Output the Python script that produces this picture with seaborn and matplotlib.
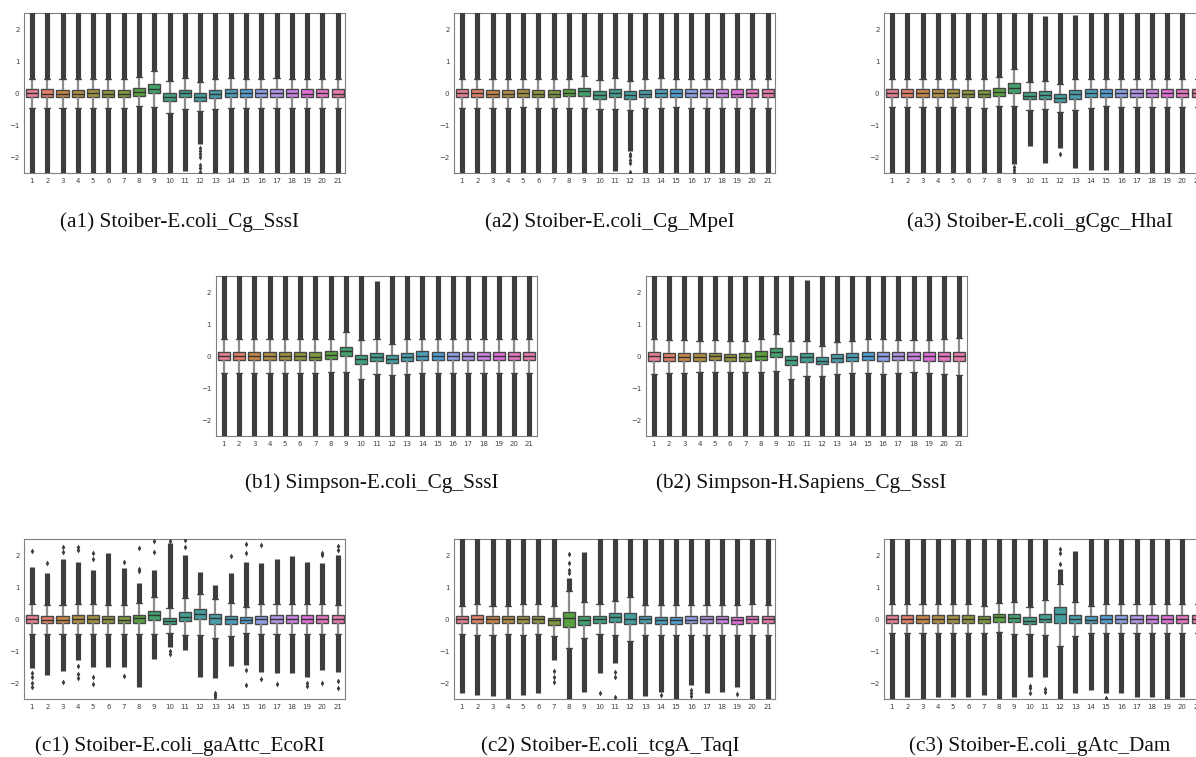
import numpy as np
import pandas as pd
import seaborn as sns
import matplotlib.pyplot as plt

# positions 1..21 along the read
cats = [str(i) for i in range(1, 22)]
CLIP = 2.6  # outliers run past the axis limit

# ---- (a1) Stoiber-E.coli_Cg_SssI
a1_med = [0.0, -0.01, -0.02, -0.01, 0.0, -0.01, -0.01, 0.05, 0.13, -0.12, 0.0, -0.12, -0.03, 0.0, 0.0, 0.0, 0.0, 0.0, -0.01, 0.0, -0.01]
a1_q1 = [-0.11, -0.11, -0.12, -0.12, -0.11, -0.12, -0.12, -0.10, 0.00, -0.24, -0.13, -0.23, -0.15, -0.11, -0.11, -0.11, -0.11, -0.11, -0.12, -0.11, -0.11]
a1_q3 = [0.12, 0.12, 0.11, 0.11, 0.12, 0.11, 0.11, 0.16, 0.28, 0.02, 0.11, 0.00, 0.10, 0.12, 0.12, 0.12, 0.12, 0.12, 0.12, 0.12, 0.12]
a1_wlo = [-0.46, -0.45, -0.46, -0.47, -0.45, -0.46, -0.46, -0.41, -0.43, -0.62, -0.48, -0.54, -0.49, -0.46, -0.45, -0.45, -0.46, -0.46, -0.46, -0.46, -0.46]
a1_whi = [0.46, 0.46, 0.46, 0.46, 0.46, 0.46, 0.46, 0.50, 0.70, 0.38, 0.47, 0.34, 0.45, 0.47, 0.46, 0.46, 0.48, 0.46, 0.46, 0.46, 0.46]
a1_olo = [-CLIP, -CLIP, -CLIP, -CLIP, -CLIP, -CLIP, -CLIP, -CLIP, -CLIP, -CLIP, -2.42, -1.60, -CLIP, -CLIP, -CLIP, -CLIP, -CLIP, -CLIP, -CLIP, -CLIP, -CLIP]
a1_ohi = [CLIP] * 21
a1_sparse = {12: [-1.7, -1.8, -1.9, -2.0, -2.25, -2.35, -2.45]}

# ---- (a2) Stoiber-E.coli_Cg_MpeI
a2_med = [0.0, 0.0, -0.01, -0.01, 0.0, -0.01, -0.01, 0.02, 0.07, -0.05, 0.0, -0.05, -0.01, 0.0, 0.0, 0.0, 0.0, 0.0, -0.01, 0.0, 0.0]
a2_q1 = [-0.11, -0.11, -0.11, -0.11, -0.11, -0.11, -0.11, -0.10, -0.08, -0.18, -0.13, -0.18, -0.12, -0.11, -0.11, -0.11, -0.11, -0.11, -0.11, -0.11, -0.11]
a2_q3 = [0.12, 0.12, 0.11, 0.11, 0.12, 0.11, 0.11, 0.13, 0.18, 0.08, 0.13, 0.07, 0.11, 0.13, 0.12, 0.12, 0.12, 0.12, 0.12, 0.12, 0.12]
a2_wlo = [-0.45, -0.45, -0.45, -0.45, -0.42, -0.45, -0.45, -0.45, -0.45, -0.50, -0.48, -0.52, -0.47, -0.45, -0.42, -0.45, -0.45, -0.45, -0.45, -0.45, -0.45]
a2_whi = [0.46, 0.46, 0.46, 0.46, 0.46, 0.45, 0.46, 0.46, 0.54, 0.41, 0.49, 0.38, 0.46, 0.47, 0.45, 0.46, 0.46, 0.46, 0.46, 0.46, 0.46]
a2_olo = [-CLIP, -CLIP, -CLIP, -CLIP, -CLIP, -CLIP, -CLIP, -CLIP, -CLIP, -CLIP, -2.42, -1.80, -CLIP, -CLIP, -CLIP, -CLIP, -CLIP, -CLIP, -CLIP, -CLIP, -CLIP]
a2_ohi = [CLIP] * 21
a2_sparse = {12: [-1.9, -1.97, -2.07, -2.17, -2.46]}

# ---- (a3) Stoiber-E.coli_gCgc_HhaI
a3_med = [0.0, 0.0, 0.0, 0.0, 0.0, -0.01, -0.01, 0.05, 0.16, -0.08, -0.04, -0.16, -0.02, 0.0, 0.0, 0.0, 0.0, 0.0, 0.0, 0.0, 0.0]
a3_q1 = [-0.11, -0.11, -0.11, -0.11, -0.11, -0.12, -0.12, -0.10, 0.02, -0.19, -0.18, -0.26, -0.17, -0.12, -0.11, -0.11, -0.11, -0.11, -0.11, -0.11, -0.11]
a3_q3 = [0.12, 0.12, 0.12, 0.12, 0.12, 0.11, 0.11, 0.16, 0.31, 0.03, 0.07, -0.03, 0.10, 0.12, 0.12, 0.12, 0.13, 0.13, 0.12, 0.13, 0.13]
a3_wlo = [-0.43, -0.43, -0.43, -0.43, -0.42, -0.44, -0.45, -0.41, -0.39, -0.52, -0.50, -0.57, -0.52, -0.45, -0.41, -0.43, -0.43, -0.43, -0.43, -0.43, -0.43]
a3_whi = [0.45, 0.45, 0.45, 0.45, 0.45, 0.45, 0.46, 0.50, 0.75, 0.36, 0.39, 0.29, 0.46, 0.46, 0.45, 0.45, 0.46, 0.46, 0.45, 0.46, 0.46]
a3_olo = [-CLIP, -CLIP, -CLIP, -CLIP, -CLIP, -CLIP, -CLIP, -CLIP, -2.20, -1.66, -2.17, -1.70, -2.33, -2.40, -2.40, -CLIP, -CLIP, -CLIP, -CLIP, -CLIP, -CLIP]
a3_ohi = [CLIP, CLIP, CLIP, CLIP, CLIP, CLIP, CLIP, CLIP, CLIP, CLIP, 2.42, CLIP, 2.45, CLIP, CLIP, CLIP, CLIP, CLIP, CLIP, CLIP, CLIP]
a3_sparse = {9: [-2.3, -2.4, -2.48], 12: [-1.9]}

# ---- (b1) Simpson-E.coli_Cg_SssI
b1_med = [0.0, 0.0, 0.0, 0.0, 0.0, 0.0, -0.01, 0.04, 0.16, -0.10, -0.02, -0.09, -0.01, 0.0, 0.0, 0.0, 0.0, 0.0, 0.0, 0.0, 0.0]
b1_q1 = [-0.13, -0.13, -0.13, -0.13, -0.13, -0.13, -0.13, -0.09, 0.00, -0.25, -0.16, -0.22, -0.15, -0.13, -0.13, -0.13, -0.13, -0.13, -0.13, -0.13, -0.13]
b1_q3 = [0.13, 0.13, 0.13, 0.13, 0.13, 0.13, 0.13, 0.16, 0.30, 0.04, 0.11, 0.03, 0.09, 0.15, 0.13, 0.13, 0.14, 0.14, 0.13, 0.13, 0.13]
b1_wlo = [-0.53, -0.51, -0.53, -0.53, -0.51, -0.53, -0.53, -0.49, -0.49, -0.71, -0.56, -0.60, -0.56, -0.53, -0.51, -0.51, -0.53, -0.53, -0.53, -0.53, -0.53]
b1_whi = [0.53, 0.53, 0.53, 0.53, 0.53, 0.53, 0.53, 0.54, 0.77, 0.51, 0.53, 0.39, 0.53, 0.55, 0.55, 0.53, 0.53, 0.53, 0.53, 0.53, 0.53]
b1_olo = [-CLIP] * 21
b1_ohi = [CLIP, CLIP, CLIP, CLIP, CLIP, CLIP, CLIP, CLIP, CLIP, CLIP, 2.36, CLIP, CLIP, CLIP, CLIP, CLIP, CLIP, CLIP, CLIP, CLIP, CLIP]
b1_sparse = {}

# ---- (b2) Simpson-H.Sapiens_Cg_SssI
b2_med = [0.0, -0.03, -0.03, -0.02, 0.01, -0.03, -0.02, 0.02, 0.12, -0.11, -0.03, -0.14, -0.04, -0.01, 0.0, 0.0, 0.0, 0.0, 0.0, 0.0, 0.0]
b2_q1 = [-0.15, -0.15, -0.15, -0.14, -0.13, -0.16, -0.15, -0.11, -0.01, -0.27, -0.19, -0.24, -0.19, -0.14, -0.13, -0.14, -0.13, -0.13, -0.14, -0.14, -0.15]
b2_q3 = [0.13, 0.11, 0.09, 0.10, 0.11, 0.08, 0.09, 0.15, 0.26, 0.02, 0.09, -0.01, 0.07, 0.11, 0.13, 0.13, 0.13, 0.13, 0.12, 0.12, 0.13]
b2_wlo = [-0.56, -0.53, -0.53, -0.50, -0.50, -0.50, -0.50, -0.50, -0.46, -0.72, -0.61, -0.61, -0.56, -0.51, -0.53, -0.55, -0.53, -0.50, -0.53, -0.55, -0.59]
b2_whi = [0.54, 0.51, 0.51, 0.48, 0.51, 0.48, 0.49, 0.53, 0.71, 0.49, 0.49, 0.33, 0.46, 0.49, 0.53, 0.53, 0.51, 0.51, 0.51, 0.53, 0.58]
b2_olo = [-CLIP] * 21
b2_ohi = [CLIP, CLIP, CLIP, CLIP, CLIP, CLIP, CLIP, CLIP, CLIP, CLIP, 2.39, CLIP, CLIP, CLIP, CLIP, CLIP, CLIP, CLIP, CLIP, CLIP, CLIP]
b2_sparse = {}

# ---- (c1) Stoiber-E.coli_gaAttc_EcoRI
c1_med = [0.01, -0.01, -0.02, 0.0, 0.0, 0.0, -0.02, 0.04, 0.15, -0.04, 0.06, 0.17, 0.05, 0.0, -0.02, 0.0, 0.0, 0.0, 0.0, 0.01, 0.01]
c1_q1 = [-0.12, -0.12, -0.12, -0.12, -0.11, -0.11, -0.12, -0.10, -0.02, -0.15, -0.04, 0.00, -0.14, -0.14, -0.11, -0.14, -0.13, -0.12, -0.12, -0.12, -0.12]
c1_q3 = [0.12, 0.11, 0.10, 0.12, 0.12, 0.11, 0.10, 0.15, 0.27, 0.05, 0.24, 0.31, 0.16, 0.09, 0.08, 0.11, 0.12, 0.12, 0.12, 0.12, 0.12]
c1_wlo = [-0.46, -0.45, -0.46, -0.46, -0.46, -0.45, -0.46, -0.46, -0.46, -0.44, -0.49, -0.49, -0.57, -0.52, -0.44, -0.46, -0.46, -0.46, -0.46, -0.46, -0.46]
c1_whi = [0.48, 0.46, 0.44, 0.47, 0.47, 0.45, 0.44, 0.50, 0.69, 0.36, 0.66, 0.79, 0.63, 0.50, 0.40, 0.48, 0.47, 0.47, 0.47, 0.47, 0.46]
c1_olo = [-1.53, -1.74, -1.63, -1.27, -1.48, -1.48, -1.48, -2.10, -1.25, -0.85, -0.96, -1.79, -1.84, -1.45, -1.43, -1.64, -1.69, -1.69, -1.79, -1.58, -1.64]
c1_ohi = [1.65, 1.44, 1.90, 1.80, 1.54, 2.06, 1.60, 1.12, 1.54, 2.37, 2.00, 1.49, 1.07, 1.44, 1.80, 1.75, 1.87, 1.98, 1.80, 1.75, 2.01]
c1_sparse = {1: [2.15, -1.69, -1.79, -1.98, -2.1], 2: [1.75], 3: [2.11, 2.27, -1.97],
             4: [2.17, 2.27, -1.45, -1.71, -1.84], 5: [1.88, 2.06, -1.79, -2.03], 7: [1.8, -1.76],
             8: [1.51, 1.56, 2.22], 9: [2.11, 2.46], 10: [2.46, -0.98, -1.08], 11: [2.27, 2.48],
             13: [-2.31, -2.36, -2.42], 14: [1.98], 15: [2.06, 2.34, -1.58, -2.05], 16: [2.32, -1.86],
             17: [-2.03], 19: [-1.98, -2.07], 20: [2.01, 2.06, -2.0], 21: [2.17, 2.29, -1.92, -2.16]}

# ---- (c2) Stoiber-E.coli_tcgA_TaqI
c2_med = [0.0, 0.02, 0.0, 0.0, 0.02, 0.01, -0.02, 0.03, -0.03, 0.0, 0.08, 0.01, 0.01, -0.02, -0.02, -0.02, 0.02, 0.02, -0.02, 0.02, 0.02]
c2_q1 = [-0.12, -0.10, -0.12, -0.12, -0.12, -0.12, -0.17, -0.23, -0.18, -0.12, -0.07, -0.16, -0.12, -0.16, -0.15, -0.12, -0.12, -0.12, -0.15, -0.12, -0.12]
c2_q3 = [0.10, 0.12, 0.09, 0.09, 0.11, 0.11, 0.05, 0.22, 0.10, 0.11, 0.20, 0.21, 0.10, 0.08, 0.08, 0.09, 0.10, 0.11, 0.08, 0.11, 0.11]
c2_wlo = [-0.47, -0.49, -0.49, -0.47, -0.49, -0.47, -0.52, -0.90, -0.59, -0.47, -0.49, -0.67, -0.49, -0.49, -0.49, -0.49, -0.49, -0.49, -0.49, -0.49, -0.49]
c2_whi = [0.42, 0.47, 0.42, 0.42, 0.47, 0.47, 0.43, 0.89, 0.53, 0.47, 0.58, 0.71, 0.45, 0.45, 0.45, 0.45, 0.45, 0.45, 0.45, 0.47, 0.45]
c2_olo = [-2.31, -2.36, -2.40, -CLIP, -2.38, -2.31, -1.27, -CLIP, -2.26, -1.69, -1.38, -CLIP, -2.40, -2.26, -CLIP, -2.05, -2.31, -2.26, -2.10, -CLIP, -CLIP]
c2_ohi = [CLIP, CLIP, CLIP, CLIP, CLIP, CLIP, CLIP, 1.30, 2.09, CLIP, CLIP, CLIP, CLIP, CLIP, CLIP, CLIP, CLIP, CLIP, CLIP, CLIP, CLIP]
c2_sparse = {7: [-1.6, -1.8, -1.95], 8: [1.45, 1.54, 1.75, 2.03], 10: [-2.31],
             11: [-1.64, -1.79, -2.42], 14: [-2.35], 16: [-2.2, -2.3, -2.4], 19: [-2.33]}

# ---- (c3) Stoiber-E.coli_gAtc_Dam
c3_med = [0.02, 0.02, 0.02, 0.02, 0.02, 0.01, 0.0, 0.06, 0.04, -0.04, 0.02, 0.17, 0.01, -0.01, 0.02, 0.01, 0.01, 0.01, 0.01, 0.01, 0.01]
c3_q1 = [-0.10, -0.10, -0.10, -0.10, -0.10, -0.12, -0.12, -0.07, -0.08, -0.16, -0.08, -0.12, -0.12, -0.12, -0.10, -0.10, -0.10, -0.10, -0.10, -0.10, -0.10]
c3_q3 = [0.12, 0.12, 0.13, 0.12, 0.12, 0.12, 0.09, 0.16, 0.17, 0.06, 0.18, 0.37, 0.13, 0.09, 0.12, 0.12, 0.12, 0.12, 0.12, 0.12, 0.12]
c3_wlo = [-0.42, -0.42, -0.44, -0.42, -0.42, -0.44, -0.44, -0.39, -0.46, -0.46, -0.49, -0.82, -0.52, -0.44, -0.44, -0.44, -0.44, -0.44, -0.44, -0.44, -0.44]
c3_whi = [0.47, 0.47, 0.47, 0.47, 0.47, 0.47, 0.42, 0.50, 0.55, 0.37, 0.60, 1.10, 0.54, 0.42, 0.47, 0.47, 0.47, 0.47, 0.47, 0.47, 0.47]
c3_olo = [-CLIP, -2.42, -CLIP, -2.42, -2.42, -2.42, -2.36, -CLIP, -2.42, -1.79, -1.79, -CLIP, -2.31, -2.20, -2.31, -2.31, -2.42, -2.42, -CLIP, -2.42, -CLIP]
c3_ohi = [CLIP, CLIP, CLIP, CLIP, CLIP, CLIP, CLIP, CLIP, CLIP, CLIP, CLIP, 1.57, 2.15, CLIP, CLIP, CLIP, CLIP, CLIP, CLIP, CLIP, CLIP]
c3_sparse = {10: [-2.08, -2.16, -2.29], 11: [-2.19, -2.28], 12: [1.72, 2.06, 2.2], 15: [-2.45]}

DARK = "#3d3d3d"
W, H = 1196, 757


def draw(ax, med, q1, q3, wlo, whi, olo, ohi, sparse):
    # five-number sample per position -> seaborn computes the boxes
    df = pd.DataFrame({
        "pos": np.repeat(cats, 5),
        "val": np.column_stack([wlo, q1, med, q3, whi]).ravel(),
    })
    sns.boxplot(data=df, x="pos", y="val", hue="pos", order=cats, hue_order=cats,
                palette="husl", saturation=0.75, legend=False, whis=(0, 100),
                width=0.8, linewidth=1.0, linecolor="#474747", ax=ax,
                whiskerprops={"color": "0.55", "linewidth": 1.6},
                capprops={"color": "0.3", "linewidth": 1.0},
                medianprops={"color": "0.2", "linewidth": 1.0})
    xs = np.arange(len(cats))
    # dense outlier columns
    ax.vlines(xs, whi, ohi, colors=DARK, lw=3.7, zorder=3)
    ax.vlines(xs, olo, wlo, colors=DARK, lw=3.7, zorder=3)
    for k, vals in sparse.items():
        ax.plot([k - 1] * len(vals), vals, "d", color=DARK, ms=3.0, mew=0, zorder=3)
    ax.set_xlim(-0.5, 20.5)
    ax.set_ylim(-2.5, 2.5)
    ax.set_yticks([-2, -1, 0, 1, 2])
    ax.set_xlabel("")
    ax.set_ylabel("")
    ax.tick_params(labelsize=5, length=2, width=0.5, pad=1.5, colors="0.25")
    for sp in ax.spines.values():
        sp.set_color("0.5")
        sp.set_linewidth(0.8)
        sp.set_visible(True)


sns.set_style("white")
fig = plt.figure(figsize=(W / 100, H / 100), dpi=100)

panels = [
    ("(a1) Stoiber-E.coli_Cg_SssI", 24.3, 13.3, 226.5, a1_med, a1_q1, a1_q3, a1_wlo, a1_whi, a1_olo, a1_ohi, a1_sparse),
    ("(a2) Stoiber-E.coli_Cg_MpeI", 454.3, 13.3, 226.5, a2_med, a2_q1, a2_q3, a2_wlo, a2_whi, a2_olo, a2_ohi, a2_sparse),
    ("(a3) Stoiber-E.coli_gCgc_HhaI", 884.3, 13.3, 226.5, a3_med, a3_q1, a3_q3, a3_wlo, a3_whi, a3_olo, a3_ohi, a3_sparse),
    ("(b1) Simpson-E.coli_Cg_SssI", 216.0, 276.3, 488.3, b1_med, b1_q1, b1_q3, b1_wlo, b1_whi, b1_olo, b1_ohi, b1_sparse),
    ("(b2) Simpson-H.Sapiens_Cg_SssI", 646.0, 276.3, 488.3, b2_med, b2_q1, b2_q3, b2_wlo, b2_whi, b2_olo, b2_ohi, b2_sparse),
    ("(c1) Stoiber-E.coli_gaAttc_EcoRI", 24.3, 539.3, 750.5, c1_med, c1_q1, c1_q3, c1_wlo, c1_whi, c1_olo, c1_ohi, c1_sparse),
    ("(c2) Stoiber-E.coli_tcgA_TaqI", 454.3, 539.3, 750.5, c2_med, c2_q1, c2_q3, c2_wlo, c2_whi, c2_olo, c2_ohi, c2_sparse),
    ("(c3) Stoiber-E.coli_gAtc_Dam", 884.3, 539.3, 750.5, c3_med, c3_q1, c3_q3, c3_wlo, c3_whi, c3_olo, c3_ohi, c3_sparse),
]

aw, ah = 321.0, 160.0
for caption, x0, y0, yb, *stats in panels:
    ax = fig.add_axes([x0 / W, 1 - (y0 + ah) / H, aw / W, ah / H])
    draw(ax, *stats)
    fig.text((x0 + aw / 2 - 5) / W, 1 - yb / H, caption, ha="center", va="baseline",
             fontsize=15.3, family="Liberation Serif", color="#111111")

fig.savefig("out.png", dpi=100)
